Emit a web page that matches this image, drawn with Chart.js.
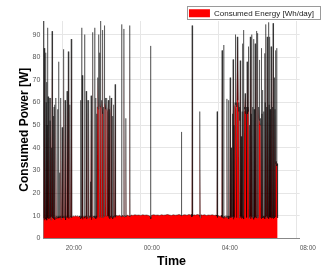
<!DOCTYPE html>
<html>
<head>
<meta charset="utf-8">
<script src="https://cdn.jsdelivr.net/npm/chart.js@4.4.1/dist/chart.umd.min.js"></script>
<style>
html,body{margin:0;padding:0;background:#fff;}
#c{display:block;}
</style>
</head>
<body>
<canvas id="c" width="333" height="270"></canvas>
<script>
// X axis: minutes since 19:00
const xTickMinutes = [60, 300, 540, 780];
const xTickLabels = ['20:00', '00:00', '04:00', '08:00'];
const yTickValues = [0, 10, 20, 30, 40, 50, 60, 70, 80, 90];
const seriesLabel = 'Consumed Energy [Wh/day]';
const xTitle = 'Time';
const yTitle = 'Consumed Power [W]';

// [minutes since 19:00, watts]
const eveningReadings = [
  [0,8.5],[1,96],[2,9],[3,84],[4,8],[5,55],[6,9.5],[7,82],[8,8.5],[9,60],[10,69],[11,8],
  [12,50],[13,93],[14,9],[15,62.6],[16,8.5],[17,45],[18,9],[19,62],[20,8.8],[21,52],[22,9.2],
  [23,62],[24,8],[25,40],[26,9.5],[27,91.5],[28,9],[29,48],[30,9.3],[31,54],[32,8.7],[33,58],
  [34,9],[35,59],[36,8.2],[37,9.5],[38,56],[39,62],[40,9.4],[41,8.6],[42,9.8],[43,9.2],[44,57],
  [45,9],[46,9.7],[47,78],[48,8.9],[49,9.6],[50,29],[51,9.2],[52,9.8],[53,9.1],[54,62],[55,8.3],
  [56,9.6],[57,9.2],[58,49],[59,9.5],[60,9],[61,9.7],[62,9.3],[63,83.5],[64,8.8],[65,9.6],[66,9.2],
  [67,61],[68,9.4],[69,8.1],[70,9.7],[71,9.3],[72,9.8],[73,65],[74,9.1],[75,9.6],[76,9.2],[77,82.5],
  [78,8.7],[79,9.8],[80,9.3],[81,9.6],[82,59],[83,9.2],[84,9.7],[85,9.4],[86,88],[87,9],[88,9.8],
  [90,9.4],[93,9.9],[96,9.5],[99,10],[102,9.6],[105,9.9],[108,9.5],[111,9.8],
  [112,9.5],[113,9.9],[114,9.3],[115,61],[116,8.6],[117,9.7],[118,93],[119,9.1],[120,72],[121,8.4],
  [122,9.8],[124,9.4],[126,9.7],[127,90],[128,8.9],[129,9.8],[131,9.6],[132,65],[133,8.5],[134,9.7],
  [136,9.5],[137,61],[138,8.8],[139,9.6],[140,61],[141,9.1],[142,9.8],[144,9.6],[145,25],[146,9.3],
  [147,63],[148,8.2],[149,9.7],[151,9.5],[152,91],[153,8.9],[154,9.8],[156,9.4],[157,9.9],[158,93],
  [159,9.1],[160,9.7],[161,62],[162,8.6],[163,9.8],[164,55],[165,9.2],[166,58],[167,60],[168,71],
  [169,57],[170,90],[171,57],[172,9.3],[173,82],[174,60],[175,58],[176,96],[177,58],[178,9.2],
  [179,57],[180,61],[181,58],[182,55],[183,92],[184,9.1],[185,58],[186,56],[187,9.6],[188,94],
  [189,60],[190,59],[191,62],[192,57],[193,9.7],[194,59],[195,62],[196,58],[197,56],[198,9.8],
  [199,56],[200,61],[201,9.2],[202,9.9],[203,57],[204,63],[205,8.7],[206,9.8],[207,9.4],[208,55],
  [209,62],[210,9.1],[211,9.9],[212,9.4],[213,54],[214,8.6],[215,9.8],[216,9.3],[217,59],[218,9.2],
  [219,10],[220,9.6],[221,68],[222,9.3],[223,9.9]
];

const nightReadings = [
  [226,10.1],[230,9.8],[234,10.2],[238,9.9],[240,9.5],[241,94.5],[242,9.4],[244,10.2],[247,9.7],
  [248,92.5],[249,9.4],[251,10.1],[253,9.6],[254,53],[255,9.5],[258,10.3],[262,10],[265,9.8],
  [266,94],[267,9.5],[270,10.3],[276,10.1],[282,10.4],[288,10.2],[294,10.3],[300,10.1],[306,10.4],
  [312,10.2],[318,10.3],[324,10.1],[329,9.7],[330,85],[331,8.6],[333,10.2],[340,10.4],[346,10.2],
  [352,10.3],[358,10.1],[364,10.4],[370,10.2],[376,10.3],[382,10.5],[388,10.3],[394,10.1],[400,10.4],
  [406,10.2],[412,10.3],[418,10.5],[424,10.2],[425,47],[426,9.9],[430,10.3],[436,10.4],[442,10.2],
  [448,10.5],[454,10.3],[456,10.6],[457,9.4],[458,94],[459,62],[460,9.8],[463,10.4],
  [468,10.2],[474,10.5],[480,10.3],[481,9.6],[482,56],[483,8.9],[485,10.4],[490,10.2],[496,10.4],
  [502,10.1],[508,10.3],[514,10.2],[520,10.4],[526,10.1],[532,10.3],[534,9.8],[535,56],[536,9.2],
  [538,10.1]
];

const morningReadings = [
  [540,10.1],[544,9.6],[548,10.2],[549,9.3],[550,83],[551,9.1],[552,9.9],[554,9.5],[555,85.4],
  [556,8.8],[558,9.8],[560,9.3],[562,10],[564,9.2],[565,61.6],[566,8.9],[567,9.7],[568,9.4],[569,9.9],
  [570,61],[571,8.6],[572,9.8],[573,9.2],[574,9.7],[575,71],[576,9],[577,9.6],[578,40],[579,9.3],
  [580,9.8],[581,9.1],[582,55],[583,9.4],[584,79],[585,8.4],[586,9.7],[587,50],[588,9.2],[589,58],
  [590,60],[591,90],[592,59],[593,57],[594,9.1],[595,60],[596,58],[597,89],[598,61],[599,89],
  [600,59],[601,60],[602,56],[603,9],[604,58],[605,52],[606,78.5],[607,9.2],[608,9.8],[609,45],
  [610,8.7],[611,9.6],[612,56],[613,86],[614,9.1],[615,9.7],[616,92],[617,8.5],[618,56],[619,58],
  [620,57],[621,64],[622,55],[623,57],[624,56],[625,58],[626,9.2],[627,78],[628,57],[629,55],
  [630,58],[631,56],[632,84.7],[633,8.8],[634,9.7],[635,50],[636,9.2],[637,89],[638,8.6],[639,9.8],
  [640,55],[641,9.3],[642,90],[643,9.1],[644,58],[645,9.6],[646,9.2],[647,88],[648,8.4],[649,57],
  [650,9.7],[651,9.1],[652,86],[653,9.3],[654,60],[655,9.8],[656,9],[657,91.6],[658,8.8],[659,56],
  [660,90.6],[661,9.2],[662,9.8],[663,58],[664,53],[665,78.8],[666,52],[667,50],[668,53],[669,51],
  [670,9.1],[671,84],[672,8.7],[673,55],[674,9.5],[675,65.5],[676,9],[677,9.8],[678,56],[679,9.2],
  [680,9.7],[681,81.7],[682,8.6],[683,60],[684,9.4],[685,94.5],[686,8.9],[687,58],[688,9.7],[689,89],
  [690,9.1],[691,62],[692,9.6],[693,95.4],[694,8.7],[695,59],[696,89],[697,9.3],[698,57],[699,9.8],
  [700,9.2],[701,84.7],[702,8.8],[703,61],[704,9.5],[705,58],[706,9.1],[707,95],[708,8.6],[709,60],
  [710,9.7],[711,71],[712,9],[713,57],[714,9.4],[715,83],[716,33],[717,34],[718,84],[719,32],
  [720,33],[721,9]
];

const readings = eveningReadings.concat(nightReadings, morningReadings).map(([x, y]) => ({x, y}));

Chart.defaults.font.family = '"Liberation Sans", Arial, Helvetica, sans-serif';

const legendFrame = {
  id: 'legendFrame',
  afterDraw(chart) {
    const lg = chart.legend;
    if (!lg || !lg.legendHitBoxes || !lg.legendHitBoxes.length) return;
    const hb = lg.legendHitBoxes[0];
    const ctx = chart.ctx;
    ctx.save();
    ctx.strokeStyle = '#9a9a9a';
    ctx.lineWidth = 1;
    const l = Math.round(hb.left - 2) + 0.5;
    const t = Math.round(hb.top - 3) + 0.5;
    const r = Math.round(hb.left + hb.width + 6) + 0.5;
    const b = Math.round(hb.top + hb.height + 2) + 0.5;
    ctx.strokeRect(l, t, r - l, b - t);
    ctx.restore();
  }
};

new Chart(document.getElementById('c'), {
  type: 'line',
  data: {
    datasets: [{
      label: seriesLabel,
      data: readings,
      borderColor: 'rgba(0,0,0,0.42)',
      borderWidth: 1,
      backgroundColor: '#ff0000',
      fill: 'origin',
      pointRadius: 0,
      tension: 0
    }]
  },
  options: {
    responsive: false,
    animation: false,
    devicePixelRatio: 1,
    layout: { padding: { top: 7.3, right: 17, left: 0, bottom: 0 } },
    plugins: {
      tooltip: { enabled: false },
      legend: {
        position: 'top',
        align: 'end',
        maxHeight: 13.7,
        labels: {
          boxWidth: 21,
          boxHeight: 8,
          padding: 2,
          color: '#222',
          font: { size: 8 },
          generateLabels: (chart) => Chart.defaults.plugins.legend.labels.generateLabels(chart)
            .map(it => Object.assign(it, { lineWidth: 0, strokeStyle: '#ff0000' }))
        }
      }
    },
    scales: {
      x: {
        type: 'linear',
        min: 0,
        max: 789,
        afterBuildTicks: (s) => { s.ticks = xTickMinutes.map(v => ({ value: v })); },
        afterFit: (s) => { s.height = 31.7; },
        ticks: {
          autoSkip: false,
          maxRotation: 0,
          labelOffset: 11,
          padding: 6,
          color: '#555',
          font: { size: 6.5 },
          callback: (v, i) => xTickLabels[i]
        },
        grid: { color: '#e6e6e6', drawTicks: false },
        border: { color: '#888' },
        title: {
          display: true, text: xTitle, color: '#000',
          font: { size: 12.5, weight: 'bold' },
          padding: { top: 2, bottom: 0.8 }
        }
      },
      y: {
        min: 0,
        max: 96,
        afterBuildTicks: (s) => { s.ticks = yTickValues.map(v => ({ value: v })); },
        afterFit: (s) => { s.width = 43.3; },
        ticks: { padding: 3, color: '#555', font: { size: 7 } },
        grid: { color: '#e6e6e6', drawTicks: false },
        border: { color: '#888' },
        title: {
          display: true, text: yTitle, color: '#000',
          font: { size: 12, weight: 'bold' },
          padding: { top: 17.5, bottom: 0 }
        }
      },
      yRight: {
        position: 'right',
        display: true,
        afterFit: (s) => { s.width = 16.3; },
        ticks: { display: false },
        grid: { display: false, drawTicks: false },
        border: { display: false }
      }
    }
  },
  plugins: [legendFrame]
});
</script>
</body>
</html>
